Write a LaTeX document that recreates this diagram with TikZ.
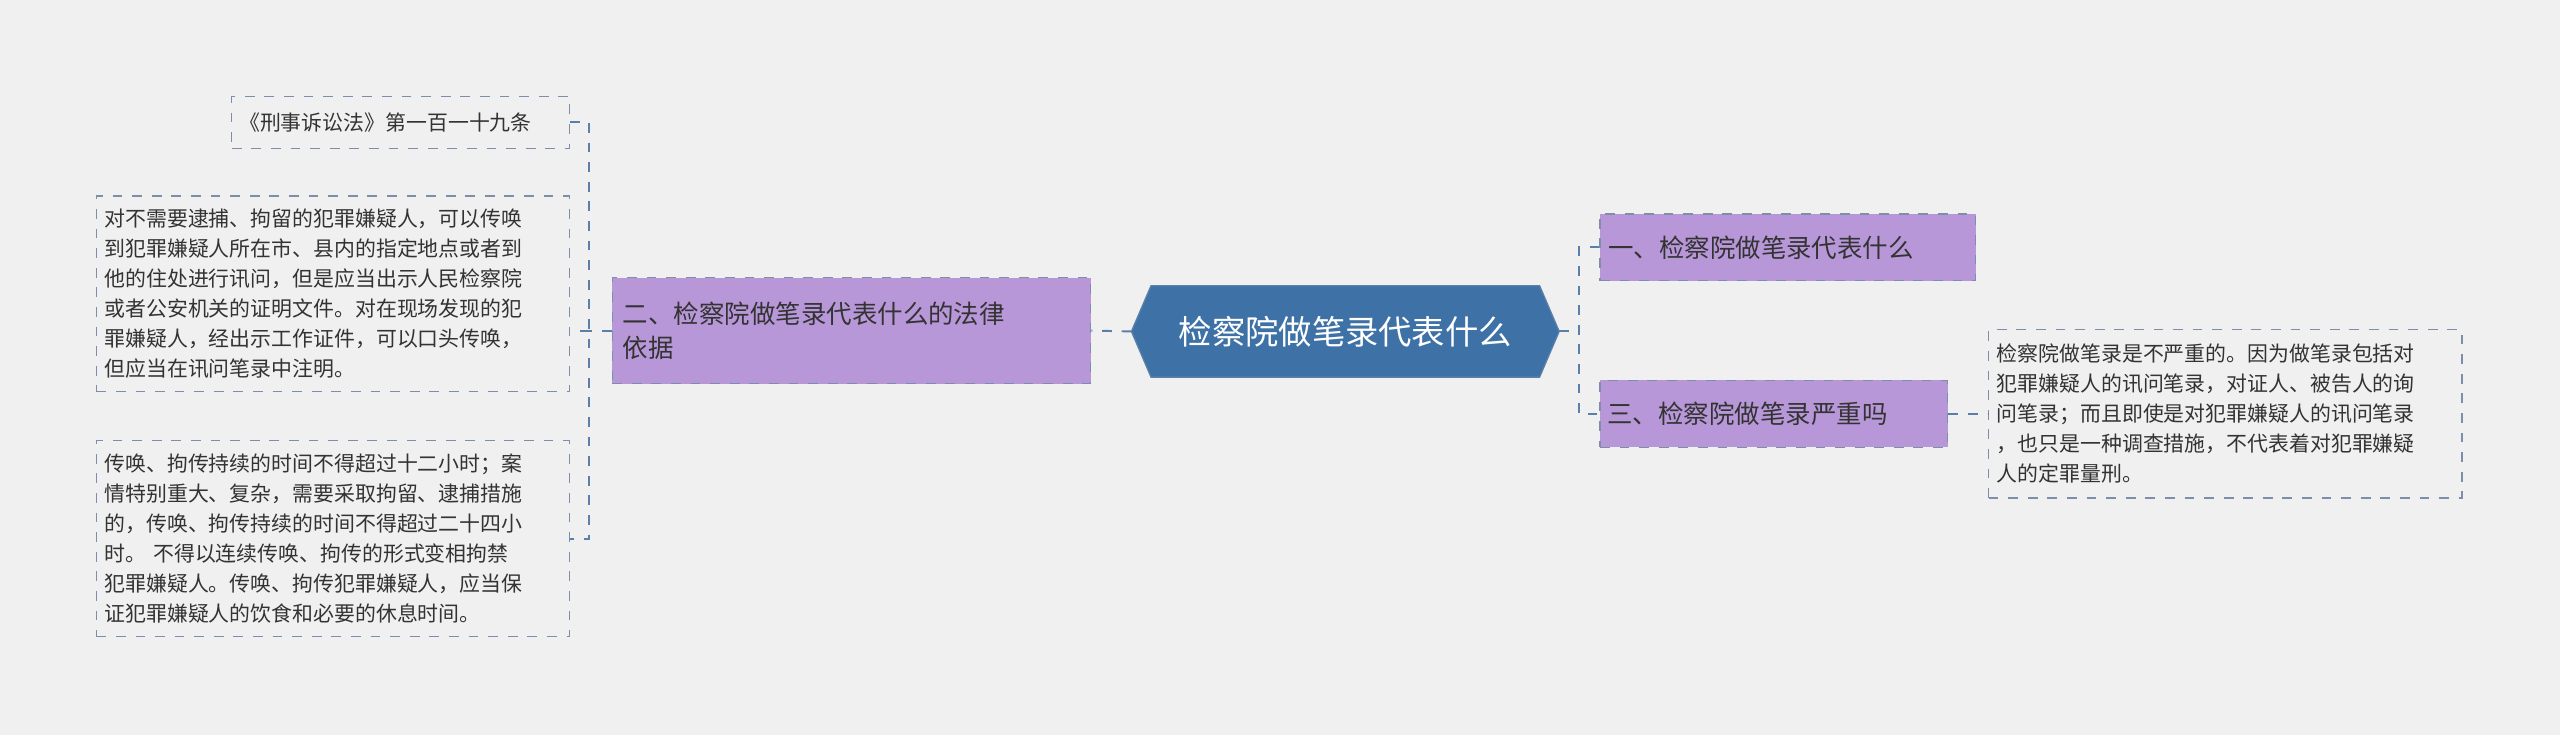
\documentclass[tikz,border=0pt]{standalone}
\usepackage{fontspec}
\setmainfont{Noto Sans CJK SC}
\begin{document}
\begin{tikzpicture}[x=0.5pt,y=-0.5pt,
  leaf/.style={draw=bord,dashed,fill=leaffill,inner sep=0pt,align=left,font=\fontsize{6.4pt}{9.2pt}\selectfont,text=txt},
  sub/.style={draw=bord,dashed,fill=purp,inner sep=0pt,align=left,font=\fontsize{7.8pt}{10.5pt}\selectfont,text=txt},
  conn/.style={draw=line,dashed,line width=0.6pt}]
\definecolor{bg}{HTML}{F0F0F0}
\definecolor{bord}{HTML}{7D8FA8}
\definecolor{leaffill}{HTML}{F0F0F0}
\definecolor{purp}{HTML}{B897D9}
\definecolor{txt}{HTML}{333333}
\definecolor{line}{HTML}{5A80AA}
\definecolor{cen}{HTML}{3E72A6}
\fill[bg] (0,0) rectangle (1568,450);
\useasboundingbox (0,0) rectangle (1568,450);
% center
\fill[cen,draw=line] (693,203) -- (705,175) -- (943,175) -- (955,203) -- (943,231) -- (705,231) -- cycle;
\node[text=white,font=\fontsize{10.2pt}{12pt}\selectfont] (c) at (824,203) {检察院做笔录代表什么};
\coordinate (cl) at (693,203); \coordinate (cr) at (955,203);
% left sub
\node[sub,minimum width=146.5pt,minimum height=32.5pt,text width=140pt] (l) at (521.5,202.5) {二、检察院做笔录代表什么的法律\\依据};
% right subs
\node[sub,minimum width=115pt,minimum height=20.5pt,text width=110pt] (r1) at (1095,151.5) {一、检察院做笔录代表什么};
\node[sub,minimum width=106.5pt,minimum height=20.5pt,text width=102pt] (r2) at (1086.5,253.5) {三、检察院做笔录严重吗};
% leaves
\node[leaf,minimum width=103.5pt,minimum height=16pt,text width=99pt] (a) at (245.5,75) {《刑事诉讼法》第一百一十九条};
\node[leaf,minimum width=145pt,minimum height=60pt,text width=140pt] (b) at (204,180) {对不需要逮捕、拘留的犯罪嫌疑人，可以传唤\\到犯罪嫌疑人所在市、县内的指定地点或者到\\他的住处进行讯问，但是应当出示人民检察院\\或者公安机关的证明文件。对在现场发现的犯\\罪嫌疑人，经出示工作证件，可以口头传唤，\\但应当在讯问笔录中注明。};
\node[leaf,minimum width=145pt,minimum height=60pt,text width=140pt] (d) at (204,330) {传唤、拘传持续的时间不得超过十二小时；案\\情特别重大、复杂，需要采取拘留、逮捕措施\\的，传唤、拘传持续的时间不得超过二十四小\\时。 不得以连续传唤、拘传的形式变相拘禁\\犯罪嫌疑人。传唤、拘传犯罪嫌疑人，应当保\\证犯罪嫌疑人的饮食和必要的休息时间。};
\node[leaf,minimum width=145pt,minimum height=51.5pt,text width=140pt] (e) at (1363,253.5) {检察院做笔录是不严重的。因为做笔录包括对\\犯罪嫌疑人的讯问笔录，对证人、被告人的询\\问笔录；而且即使是对犯罪嫌疑人的讯问笔录\\，也只是一种调查措施，不代表着对犯罪嫌疑\\人的定罪量刑。};
% connectors
\draw[conn] (cl) -- (l.east);
\draw[conn] (l.west) -- (361,202.5);
\draw[conn] (a.east) -- (361,75) -- (361,330) -- (d.east|-0,330);
\draw[conn] (361,202.5) -- (b.east|-0,202.5);
\draw[conn] (cr) -- (967,203);
\draw[conn] (r1.west) -- (967,151.5) -- (967,253.5) -- (r2.west);
\draw[conn] (r2.east) -- (e.west);
\end{tikzpicture}
\end{document}
